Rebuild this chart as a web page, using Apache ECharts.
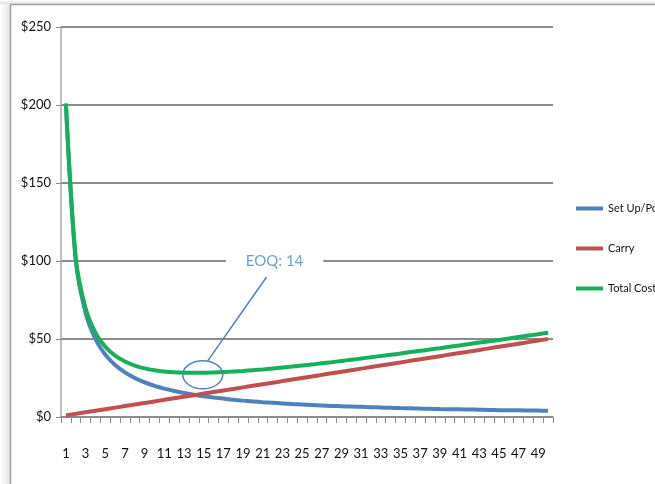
<!DOCTYPE html>
<html>
<head>
<meta charset="utf-8">
<script src="https://cdn.jsdelivr.net/npm/echarts@6/dist/echarts.min.js"></script>
<style>
  html, body { margin: 0; padding: 0; background: #fff; }
  #chart { width: 655px; height: 484px; }
</style>
</head>
<body>
<div id="chart"></div>
<script>
// Lot size (pieces per run)
const lotSizes = [1,2,3,4,5,6,7,8,9,10,11,12,13,14,15,16,17,18,19,20,21,22,23,24,25,
  26,27,28,29,30,31,32,33,34,35,36,37,38,39,40,41,42,43,44,45,46,47,48,49,50];

// Set-up cost spread over each piece
const setUpPerPiece = [200.0,100.0,66.7,50.0,40.0,33.3,28.6,25.0,22.2,20.0,18.2,16.7,15.4,14.3,13.3,
  12.5,11.8,11.1,10.5,10.0,9.5,9.1,8.7,8.3,8.0,7.7,7.4,7.1,6.9,6.7,6.5,6.3,6.1,5.9,5.7,
  5.6,5.4,5.3,5.1,5.0,4.9,4.8,4.7,4.5,4.4,4.3,4.3,4.2,4.1,4.0];

// Carrying cost
const carry = [1,2,3,4,5,6,7,8,9,10,11,12,13,14,15,16,17,18,19,20,21,22,23,24,25,
  26,27,28,29,30,31,32,33,34,35,36,37,38,39,40,41,42,43,44,45,46,47,48,49,50];

// Total cost per piece
const totalCost = [201.0,102.0,69.7,54.0,45.0,39.3,35.6,33.0,31.2,30.0,29.2,28.7,28.4,28.3,28.3,
  28.5,28.8,29.1,29.5,30.0,30.5,31.1,31.7,32.3,33.0,33.7,34.4,35.1,35.9,36.7,37.5,38.3,39.1,
  39.9,40.7,41.6,42.4,43.3,44.1,45.0,45.9,46.8,47.7,48.5,49.4,50.3,51.3,52.2,53.1,54.0];

const yTicks = { min: 0, max: 250, interval: 50 };
const eoq = 14;
const eoqLabel = 'EOQ: ' + eoq;

const FONT = 'Lato, "Liberation Sans", sans-serif';
const chart = echarts.init(document.getElementById('chart'), null, { renderer: 'canvas' });

function lineSeries(name, data, color) {
  return {
    name, type: 'line', data,
    smooth: 0.3,
    showSymbol: false, symbol: 'none',
    lineStyle: { color, width: 4 },
    itemStyle: { color },
    z: 3
  };
}

chart.setOption({
  animation: false,
  backgroundColor: '#ffffff',
  textStyle: { fontFamily: FONT },
  grid: { left: 61, right: 102, top: 27, bottom: 67 },
  legend: {
    orient: 'vertical',
    left: 571, top: 198,
    itemWidth: 27, itemHeight: 4, itemGap: 29,
    icon: 'rect',
    textStyle: { fontFamily: FONT, fontSize: 11, color: '#111' },
    data: ['Set Up/Pc', 'Carry', 'Total Cost']
  },
  xAxis: {
    type: 'category',
    data: lotSizes,
    boundaryGap: true,
    axisLine: { lineStyle: { color: '#8a8a8a', width: 1.5 } },
    axisTick: { show: true, interval: 0, length: 6, lineStyle: { color: '#8a8a8a' } },
    axisLabel: { interval: 1, margin: 30, color: '#111', fontSize: 13, fontFamily: FONT },
    splitLine: { show: false }
  },
  yAxis: {
    type: 'value',
    min: yTicks.min, max: yTicks.max, interval: yTicks.interval,
    axisLine: { show: true, lineStyle: { color: '#aaaaaa', width: 1.5 } },
    axisTick: { show: true, length: 5, lineStyle: { color: '#8a8a8a' } },
    axisLabel: { margin: 10, color: '#111', fontSize: 13, fontFamily: FONT,
      formatter: v => '$' + v },
    splitLine: { show: true, lineStyle: { color: '#8c8c8c', width: 2 } }
  },
  series: [
    lineSeries('Set Up/Pc', setUpPerPiece, '#4f81bd'),
    lineSeries('Carry', carry, '#c0504d'),
    lineSeries('Total Cost', totalCost, '#16b05a')
  ]
});

// Frame, shadow and the EOQ callout, placed from axis coordinates
const idx = lotSizes.indexOf(eoq);
const pA = chart.convertToPixel({ gridIndex: 0 }, [idx, totalCost[idx]]);
const pB = chart.convertToPixel({ gridIndex: 0 }, [idx + 1, totalCost[idx + 1]]);
const cx = (pA[0] + pB[0]) / 2 + 4;
const cy = (pA[1] + pB[1]) / 2 + 2;
const labelPt = chart.convertToPixel({ gridIndex: 0 }, [idx + 8, 100]);
const lx = labelPt[0] + 2;

chart.setOption({
  graphic: [
    { type: 'rect', silent: true, z: -10,
      shape: { x: 0, y: 0, width: 10, height: 484 },
      style: { fill: new echarts.graphic.LinearGradient(0, 0, 1, 0,
        [{ offset: 0, color: '#ffffff' }, { offset: 1, color: '#e6e6e6' }]) } },
    { type: 'rect', silent: true, z: -10,
      shape: { x: 0, y: 0, width: 655, height: 4 },
      style: { fill: new echarts.graphic.LinearGradient(0, 0, 0, 1,
        [{ offset: 0, color: '#ffffff' }, { offset: 1, color: '#e0e0e0' }]) } },
    { type: 'polyline', silent: true, z: 10,
      shape: { points: [[10.5, 484], [10.5, 4.5], [655, 4.5]] },
      style: { stroke: '#a0a0a0', lineWidth: 1.5, fill: null } },
    { type: 'ellipse', silent: true, z: 20,
      shape: { cx: cx, cy: cy, rx: 20, ry: 14 },
      style: { stroke: '#4f81bd', lineWidth: 1.5, fill: null } },
    { type: 'line', silent: true, z: 20,
      shape: { x1: cx + 5, y1: cy - 14, x2: lx - 8, y2: labelPt[1] + 16 },
      style: { stroke: '#4f81bd', lineWidth: 1.5 } },
    { type: 'text', silent: true, z: 20,
      x: lx, y: labelPt[1],
      style: { text: eoqLabel, fill: '#6a9fd8', font: '15px Lato, "Liberation Sans", sans-serif',
        align: 'center', verticalAlign: 'middle',
        backgroundColor: '#ffffff', padding: [2, 20, 2, 20] } }
  ]
});
</script>
</body>
</html>
